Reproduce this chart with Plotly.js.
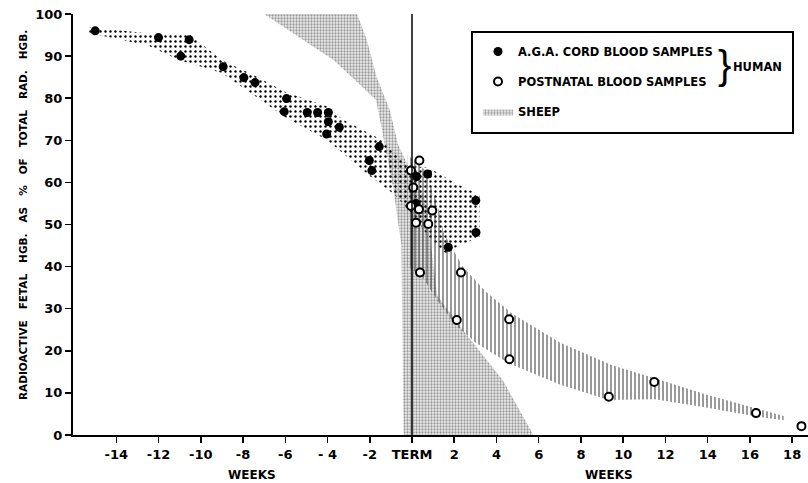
<!DOCTYPE html>
<html>
<head>
<meta charset="utf-8">
<script src="https://cdn.plot.ly/plotly-3.0.1.min.js"></script>
<style>html,body{margin:0;padding:0;background:#fff}#chart{width:808px;height:483px}</style>
</head>
<body>
<div id="chart"></div>
<script>
// ---- data (weeks relative to term, % radioactive fetal Hgb) ----
const agaX = [-15.0, -12.0, -10.95, -10.55, -8.94, -7.96, -7.43, -5.94, -6.05, -4.96, -4.47, -3.96, -3.96, -4.04, -3.44, -1.55, -2.02, -1.90, 0.22, 0.74, 0.19, 3.02, 3.03, 1.72];
const agaY = [96.0, 94.4, 90.0, 93.9, 87.5, 84.9, 83.7, 79.9, 76.8, 76.6, 76.6, 76.6, 74.4, 71.5, 73.1, 68.5, 65.2, 62.8, 61.4, 62.0, 55.0, 55.7, 48.1, 44.6];

const postX = [0.35, -0.05, 0.06, -0.05, 0.33, 0.96, 0.19, 0.77, 0.38, 2.32, 2.12, 4.60, 4.61, 9.32, 11.47, 16.29, 18.44];
const postY = [65.2, 62.8, 58.8, 54.4, 53.6, 53.3, 50.4, 50.1, 38.6, 38.6, 27.3, 27.5, 18.0, 9.1, 12.6, 5.2, 2.1];

// band outlines (upper edge left->right, then lower edge right->left)
const agaBandX = [-15.3, -12, -10.5, -9, -7.5, -6, -4, -3.3, -1.4, -0.2, 0.8, 2, 3.2, 3.2, 2.2, 1.6, 0.8, 0.1, -0.8, -2, -4, -6, -9, -11, -12.5, -15.3];
const agaBandY = [96.8, 95.2, 95.0, 89.0, 85.5, 81.5, 78.0, 75.0, 70.0, 64.0, 63.5, 60.0, 57.0, 47.0, 45.0, 43.0, 47.0, 52.0, 57.0, 61.5, 70.0, 75.5, 86.0, 89.0, 92.5, 95.5];

const postBandX = [-0.2, 0.6, 1.2, 1.5, 2.4, 3.5, 4.7, 7, 9.5, 11.5, 14, 16.3, 17.6, 17.6, 16.3, 14, 11.5, 9.3, 7, 4.6, 3, 2, 1.2, 0.5, -0.2];
const postBandY = [66.5, 63.0, 55.0, 48.0, 40.0, 34.0, 29.0, 22.0, 16.5, 13.5, 9.5, 6.3, 4.5, 3.5, 4.4, 6.5, 8.5, 8.3, 12.0, 17.0, 22.0, 26.5, 32.0, 37.5, 40.0];

const sheepX = [-7, -2.6, -2.14, -1.67, -1.04, -0.66, 0, 0.6, 0.9, 1.2, 2.4, 4.3, 5.75, -0.4, -0.5, -0.9, -1.7, -3.7, -7];
const sheepY = [100, 100, 93.8, 85, 77, 69, 62, 56, 45, 33, 25, 13, 0, 0, 45, 59, 79.6, 89, 100];

const tickVals = [-14, -12, -10, -8, -6, -4, -2, 0, 2, 4, 6, 8, 10, 12, 14, 16, 18];
const tickText = ['-14', '-12', '-10', '-8', '-6', '- 4', '-2', 'TERM', '2', '4', '6', '8', '10', '12', '14', '16', '18'];
const yTickVals = [0, 10, 20, 30, 40, 50, 60, 70, 80, 90, 100];

// ---- chart ----
const F = 'DejaVu Sans, Liberation Sans, sans-serif';
const traces = [
  {x: sheepX, y: sheepY, type: 'scatter', mode: 'lines', fill: 'toself', name: 'SHEEP',
   line: {width: 0, color: 'rgba(0,0,0,0)'}, fillcolor: 'rgba(0,0,0,0)',
   fillpattern: {shape: '.', size: 3, solidity: 0.45, fgcolor: '#999', bgcolor: '#eeeeee'},
   legendrank: 3, legendgroup: 'c', hoverinfo: 'skip'},
  {x: agaBandX, y: agaBandY, type: 'scatter', mode: 'lines', fill: 'toself', showlegend: false,
   line: {width: 0, color: 'rgba(0,0,0,0)'}, fillcolor: 'rgba(0,0,0,0)',
   fillpattern: {shape: '.', size: 5, solidity: 0.18, fgcolor: '#000', bgcolor: 'rgba(255,255,255,0)'},
   hoverinfo: 'skip'},
  {x: postBandX, y: postBandY, type: 'scatter', mode: 'lines', fill: 'toself', showlegend: false,
   line: {width: 0, color: 'rgba(0,0,0,0)'}, fillcolor: 'rgba(0,0,0,0)',
   fillpattern: {shape: '|', size: 4, solidity: 0.25, fgcolor: '#333', bgcolor: 'rgba(255,255,255,0)'},
   hoverinfo: 'skip'},
  {x: agaX, y: agaY, type: 'scatter', mode: 'markers', name: 'A.G.A. CORD BLOOD SAMPLES',
   marker: {symbol: 'circle', size: 9, color: '#000'}, legendrank: 1, legendgroup: 'a'},
  {x: postX, y: postY, type: 'scatter', mode: 'markers', name: 'POSTNATAL BLOOD SAMPLES',
   marker: {symbol: 'circle', size: 8, color: '#fff', line: {color: '#000', width: 2}}, legendrank: 2, legendgroup: 'b'}
];

const px2x = p => (p - 73) / 735;
const px2y = p => (435 - p) / 421;
const sp = '\u00a0\u00a0\u00a0';

const layout = {
  width: 808, height: 483,
  margin: {l: 73, r: 0, t: 14, b: 48},
  paper_bgcolor: '#fff', plot_bgcolor: '#fff',
  font: {family: F, color: '#000', size: 12},
  xaxis: {range: [-16.05, 18.75], tickvals: tickVals, ticktext: tickText, ticks: 'outside', ticklen: 6, tickwidth: 1.5,
          tickcolor: '#000', showline: true, linecolor: '#000', linewidth: 2, showgrid: false, zeroline: false,
          tickfont: {family: F, size: 13, weight: 'bold'}},
  yaxis: {range: [0, 100], tickvals: yTickVals, ticks: 'outside', ticklen: 6, tickwidth: 1.5, tickcolor: '#000',
          showline: true, linecolor: '#000', linewidth: 2, showgrid: false, zeroline: false,
          tickfont: {family: F, size: 13, weight: 'bold'}},
  showlegend: true,
  legend: {x: px2x(478), y: px2y(37), xanchor: 'left', yanchor: 'top', bgcolor: 'rgba(0,0,0,0)', borderwidth: 0,
           font: {family: F, size: 11.5, weight: 'bold'}, tracegroupgap: 11, itemwidth: 30},
  shapes: [
    {type: 'line', xref: 'x', yref: 'y', x0: 0, x1: 0, y0: 0, y1: 100, line: {color: '#000', width: 1.5}},
    {type: 'rect', xref: 'paper', yref: 'paper', x0: px2x(472), x1: px2x(793), y0: px2y(133), y1: px2y(32),
     line: {color: '#000', width: 2}, fillcolor: 'rgba(0,0,0,0)'}
  ],
  annotations: [
    {text: 'WEEKS', xref: 'paper', yref: 'paper', x: px2x(252), y: px2y(475), xanchor: 'center', yanchor: 'middle',
     showarrow: false, font: {family: F, size: 12, weight: 'bold'}},
    {text: 'WEEKS', xref: 'paper', yref: 'paper', x: px2x(609), y: px2y(475), xanchor: 'center', yanchor: 'middle',
     showarrow: false, font: {family: F, size: 12, weight: 'bold'}},
    {text: ['RADIOACTIVE', 'FETAL', 'HGB.', 'AS', '%', 'OF', 'TOTAL', 'RAD.', 'HGB.'].join(sp), xref: 'paper', yref: 'paper',
     x: px2x(23), y: px2y(215), xanchor: 'center', yanchor: 'middle', textangle: -90, showarrow: false,
     font: {family: F, size: 10.5, weight: 'bold'}},
    {text: 'HUMAN', xref: 'paper', yref: 'paper', x: px2x(757), y: px2y(67), xanchor: 'center', yanchor: 'middle',
     showarrow: false, font: {family: F, size: 11.5, weight: 'bold'}},
    {text: '}', xref: 'paper', yref: 'paper', x: px2x(724), y: px2y(65), xanchor: 'center', yanchor: 'middle',
     showarrow: false, font: {family: 'Liberation Sans', size: 40, weight: 'normal'}}
  ]
};

Plotly.newPlot('chart', traces, layout, {staticPlot: true});
</script>
</body>
</html>
